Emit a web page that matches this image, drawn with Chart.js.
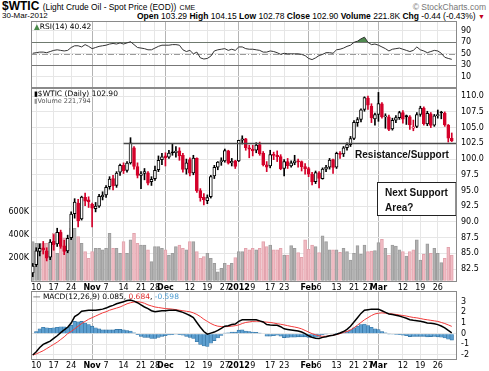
<!DOCTYPE html>
<html>
<head>
<meta charset="utf-8">
<script src="https://cdn.jsdelivr.net/npm/chart.js@4.4.0/dist/chart.umd.min.js"></script>
<style>
  html, body { margin: 0; padding: 0; background: #fff; }
  #wrap { position: relative; width: 489px; height: 371px; overflow: hidden; font-family: "Liberation Sans", Arial, sans-serif; color: #000; }
  canvas { position: absolute; left: 0; }
  .t { position: absolute; white-space: nowrap; line-height: 1; }
  .leg { position: absolute; white-space: nowrap; line-height: 1; font-family: "DejaVu Sans", sans-serif; font-size: 7.5px; }
</style>
</head>
<body>
<div id="wrap">
  <div class="t" style="left:2px;top:0px;font-size:12px;"><b>$WTIC</b> <span style="font-size:8.4px">(Light Crude Oil - Spot Price (EOD))</span> <span style="font-size:7px">CME</span></div>
  <div class="t" style="right:3px;top:3px;font-size:8.5px;color:#777">&copy; StockCharts.com</div>
  <div class="t" style="left:2px;top:12px;font-size:8px;">30-Mar-2012</div>
  <div class="t" style="right:4px;top:12px;font-size:8.5px;"><b>Open</b> 103.29 <b>High</b> 104.15 <b>Low</b> 102.78 <b>Close</b> 102.90 <b>Volume</b> 221.8K <b>Chg</b> -0.44 (-0.43%) <span style="color:#c00020;font-size:7px">&#9660;</span></div>

  <canvas id="rsiChart" width="489" height="67" style="top:21px"></canvas>
  <canvas id="priceChart" width="489" height="206" style="top:88px"></canvas>
  <canvas id="macdChart" width="489" height="82" style="top:289px"></canvas>

  <div class="leg" style="left:34px;top:23px;"><span style="color:#4a8a4a">&#9650;</span>RSI(14) 40.42</div>
  <div class="leg" style="left:34px;top:90px;"><span style="font-size:7px">&#9646;</span>$WTIC (Daily) 102.90</div>
  <div class="leg" style="left:34px;top:98px;font-size:6.5px;color:#555"><span style="color:#999">&#9646;</span>Volume 221,794</div>
  <div class="leg" style="left:33px;top:293px;">&#8212; MACD(12,26,9) 0.085, <span style="color:#e03030">0.684</span>, <span style="color:#4a9ad0">-0.598</span></div>
</div>

<script>
// --- 1. DATA ---
const dates = [
  '10/7','10/10','10/11','10/12','10/13','10/14','10/17','10/18','10/19','10/20','10/21','10/24','10/25','10/26','10/27','10/28','10/31',
  '11/1','11/2','11/3','11/4','11/7','11/8','11/9','11/10','11/11','11/14','11/15','11/16','11/17','11/18','11/21','11/22','11/23','11/25','11/28','11/29','11/30',
  '12/1','12/2','12/5','12/6','12/7','12/8','12/9','12/12','12/13','12/14','12/15','12/16','12/19','12/20','12/21','12/22','12/23','12/27','12/28','12/29','12/30',
  '1/3','1/4','1/5','1/6','1/9','1/10','1/11','1/12','1/13','1/17','1/18','1/19','1/20','1/23','1/24','1/25','1/26','1/27','1/30','1/31',
  '2/1','2/2','2/3','2/6','2/7','2/8','2/9','2/10','2/13','2/14','2/15','2/16','2/17','2/21','2/22','2/23','2/24','2/27','2/28','2/29',
  '3/1','3/2','3/5','3/6','3/7','3/8','3/9','3/12','3/13','3/14','3/15','3/16','3/19','3/20','3/21','3/22','3/23','3/26','3/27','3/28','3/29','3/30',
  '4/2'
];

const opens = [
  81.9,83.2,85.3,85.9,85.4,84.4,86.9,86.5,88.4,86.2,85.4,87.5,91.3,93.0,90.5,93.9,93.5,
  92.8,92.1,92.5,94.0,94.3,95.6,96.9,95.8,97.9,99.0,98.2,99.4,101.8,98.8,97.4,97.7,97.8,96.4,96.9,98.3,99.9,
  100.5,100.3,101.0,101.0,101.3,100.6,98.4,99.9,97.8,100.1,95.0,93.9,93.4,94.0,97.3,98.7,99.6,99.7,101.3,99.4,99.7,
  99.7,103.0,103.2,101.8,101.6,101.4,102.3,100.9,99.1,98.9,100.6,100.6,100.4,98.5,99.6,98.9,99.4,99.7,99.6,98.8,
  98.5,97.6,96.4,97.8,96.9,98.4,98.7,99.9,98.7,100.9,100.8,101.8,102.3,103.3,105.8,106.3,107.9,109.7,108.4,106.4,
  107.1,108.8,106.7,106.7,104.8,106.2,106.6,107.4,106.9,106.7,104.9,105.2,107.1,108.1,105.6,107.2,105.4,106.9,107.4,107.3,105.4,103.29
];
const highs = [
  83.4,85.9,86.5,86.9,85.9,87.2,88.0,89.0,88.7,87.1,87.9,91.6,93.7,93.6,94.1,94.6,94.0,
  93.0,93.1,94.4,94.8,95.8,97.2,97.4,98.0,99.2,99.4,99.6,103.4,102.0,99.4,98.0,98.5,98.0,97.2,98.9,100.5,100.9,
  101.0,101.4,102.4,102.0,101.8,100.9,100.0,100.2,100.6,100.2,95.3,94.5,94.3,97.4,99.0,99.6,100.2,101.6,101.4,100.1,99.8,
  103.0,103.7,103.3,102.2,102.2,102.6,102.7,101.2,99.6,101.4,101.1,101.3,100.7,99.9,100.1,99.7,100.6,100.0,99.7,99.3,
  98.7,97.9,98.1,98.0,98.6,99.0,100.1,100.0,101.1,101.2,102.0,102.6,103.6,106.1,106.6,108.0,109.9,110.0,108.8,107.3,
  110.6,109.0,107.2,107.0,106.5,106.9,107.6,107.7,107.0,106.9,106.2,107.4,108.4,108.3,107.6,107.4,107.1,107.8,107.6,107.5,105.5,104.15
];
const lows = [
  81.3,82.9,84.6,84.9,83.8,84.0,85.5,86.1,85.8,84.8,85.1,87.2,90.6,89.2,90.3,92.6,92.3,
  89.2,91.6,92.3,93.5,93.9,95.2,95.1,95.5,97.4,97.7,97.9,99.2,98.4,97.0,95.3,96.7,95.9,95.8,96.6,98.0,99.1,
  98.9,100.1,100.6,100.3,99.8,97.9,97.6,97.3,97.5,94.7,93.3,92.7,92.9,93.8,96.9,98.3,99.0,99.5,99.2,98.9,98.5,
  99.6,102.4,101.4,100.2,100.5,101.0,100.6,98.9,98.0,98.6,99.9,99.6,98.3,97.3,98.5,98.7,99.1,98.7,98.1,97.6,
  97.2,95.9,96.1,95.4,96.8,98.0,98.4,97.7,98.5,100.1,100.4,101.4,102.0,103.1,105.2,105.9,107.6,107.9,105.8,105.4,
  106.0,106.5,104.9,104.5,104.6,105.8,106.3,105.7,105.5,104.7,104.5,105.0,106.8,105.4,105.3,105.0,105.2,106.5,106.4,105.2,102.7,102.78
];
const closes = [
  82.98,85.41,85.81,85.57,84.23,86.80,86.38,88.34,86.11,85.30,87.40,91.27,93.17,90.20,93.96,93.32,93.19,
  92.19,92.51,94.07,94.26,95.52,96.80,95.74,97.78,98.99,98.14,99.37,102.59,98.82,97.41,97.67,98.01,96.17,96.77,98.21,99.79,100.36,
  100.20,100.96,100.99,101.28,100.49,98.34,99.41,97.77,100.14,94.95,93.87,93.53,93.88,97.22,98.67,99.53,99.68,101.34,99.36,99.65,98.83,
  102.96,103.22,101.81,101.56,101.31,102.24,100.87,99.10,98.70,100.71,100.59,100.39,98.46,99.58,98.95,99.40,99.70,99.56,98.78,98.48,
  97.61,96.36,97.84,96.91,98.41,98.70,99.84,98.67,100.91,100.74,101.80,102.31,103.24,105.84,106.28,107.83,109.77,108.56,106.55,107.07,
  108.84,106.70,106.72,104.70,106.16,106.58,107.40,106.34,106.71,105.43,105.11,107.06,108.09,105.61,107.27,105.35,106.87,107.03,107.33,105.41,103.34,102.90
];
// volume in thousands
const volumes = [
  339,325,325,325,325,209,412,238,412,370,325,455,455,383,325,252,194,252,282,282,
  267,282,412,282,282,238,339,238,354,412,325,310,310,267,165,296,296,282,267,223,
  238,296,310,282,267,339,339,252,194,209,238,194,151,78,107,151,136,151,200,252,
  252,282,267,282,267,282,339,296,310,267,267,282,223,223,304,282,244,203,354,273,
  310,296,244,389,339,267,267,267,247,282,252,180,238,304,232,310,252,258,261,330,
  360,282,223,310,301,267,252,214,252,267,354,180,229,319,238,282,238,157,194,290,222
];
const rsi = [
  51,52,53,53,52,54,56,57,56,55,56,61,64,64,62,66,63,59,61,63,64,
  65,67,68,67,69,67,69,71,66,61,60,59,57,57,60,63,65,65,65,66,
  66,65,57,54,56,50,53,43,41,42,46,55,57,58,59,56,58,56,62,62,
  59,58,58,57,56,53,53,55,54,52,49,51,50,50,50,50,49,47,42,40,
  43,47,49,52,52,51,57,58,60,63,65,70,72,76,79,70,66,67,65,62,
  59,55,58,59,60,58,56,54,56,62,57,55,52,54,56,55,51,44,42,40.42
];
const macdLine = [
  -2.0,-1.7,-1.3,-1.0,-0.85,-0.7,-0.45,-0.2,0.1,0.35,0.6,1.0,1.6,1.8,2.1,2.15,2.2,2.2,2.2,2.25,
  2.3,2.4,2.55,2.65,2.8,2.9,3.0,3.1,3.15,3.05,2.9,2.7,2.5,2.35,2.15,2.05,2.1,2.15,2.15,2.2,
  2.2,2.2,2.1,2.0,1.85,1.7,1.5,1.05,0.6,0.2,-0.05,0.05,0.15,0.3,0.5,0.7,0.75,0.85,0.9,1.15,
  1.3,1.3,1.3,1.3,1.3,1.2,1.1,0.85,0.82,0.8,0.78,0.65,0.45,0.4,0.35,0.3,0.25,0.15,0.0,-0.2,
  -0.35,-0.42,-0.46,-0.35,-0.28,-0.2,-0.15,-0.05,0.06,0.2,0.4,0.7,1.1,1.5,1.9,2.2,2.25,2.3,2.3,2.3,
  2.15,2.0,1.85,1.8,1.72,1.65,1.55,1.45,1.3,1.25,1.22,1.17,1.1,1.0,0.97,0.93,0.85,0.72,0.55,0.3,0.085
];
const macdSignal = [
  -2.0,-1.9,-1.75,-1.6,-1.4,-1.2,-1.0,-0.8,-0.55,-0.3,0.0,0.2,0.45,0.7,0.95,1.15,1.35,1.5,1.65,1.8,
  1.95,2.05,2.2,2.3,2.4,2.5,2.65,2.8,2.9,2.97,3.0,2.95,2.85,2.7,2.6,2.5,2.45,2.4,2.35,2.33,
  2.3,2.25,2.2,2.15,2.1,2.05,1.95,1.8,1.6,1.35,1.15,0.95,0.8,0.7,0.67,0.65,0.67,0.7,0.75,0.82,
  0.95,1.05,1.1,1.15,1.17,1.15,1.1,1.08,1.05,1.0,0.93,0.88,0.82,0.75,0.68,0.62,0.55,0.45,0.3,0.15,
  0.0,-0.1,-0.2,-0.25,-0.25,-0.2,-0.15,-0.08,0.0,0.12,0.2,0.35,0.55,0.8,1.05,1.3,1.5,1.7,1.85,1.92,
  1.95,1.92,1.88,1.85,1.8,1.75,1.7,1.65,1.58,1.52,1.48,1.42,1.35,1.3,1.25,1.2,1.15,1.05,0.95,0.82,0.684
];

const tickDates = ['10/10','10/17','10/24','11/1','11/7','11/14','11/21','11/28','12/1','12/12','12/19','12/27',
  '1/3','1/9','1/17','1/23','2/1','2/6','2/13','2/21','2/27','3/1','3/12','3/19','3/26'];
const tickTexts = ['10','17','24','Nov','7','14','21','28','Dec','12','19','27',
  '2012','9','17','23','Feb','6','13','21','27','Mar','12','19','26'];
const priceTicks = [82.5, 85.0, 87.5, 90.0, 92.5, 95.0, 97.5, 100.0, 102.5, 105.0, 107.5, 110.0];
const volumeTicks = [200, 400, 600];
const rsiTicks = [10, 30, 50, 70, 90];
const rsiLevels = [70, 50, 30];
const macdTicks = [-2, -1, 0, 1, 2, 3];

// annotations (price values / date indexes)
const resistLevel = 102.5;
const resistFrom = '11/14';

// --- 2. HELPERS ---
const tickIdx = tickDates.map(d => dates.indexOf(d));
const isMonth = i => /[A-Za-z]|2012/.test(tickTexts[i]);
const AXIS_FONT = 'DejaVu Sans';

function xAxis(labelHeight) {
    return {
        type: 'category',
        offset: true,
        border: { display: false },
        grid: {
            offset: false,
            drawTicks: false,
            color: ctx => isMonth(ctx.index) ? '#b4b4b4' : '#e6e6e6'
        },
        ticks: {
            display: labelHeight > 0,
            autoSkip: false,
            maxRotation: 0,
            padding: 1,
            color: '#000',
            font: ctx => ({ family: AXIS_FONT, size: 8, weight: isMonth(ctx.index) ? 'bold' : 'normal' }),
            callback: (v, i) => tickTexts[i]
        },
        afterBuildTicks: axis => { axis.ticks = tickIdx.map(i => ({ value: i })); },
        afterFit: axis => { axis.height = labelHeight; axis.paddingLeft = 0; axis.paddingRight = 0; }
    };
}

function rightAxis(min, max, ticks, fmt, width) {
    return {
        position: 'right',
        min: min,
        max: max,
        border: { display: false },
        grid: { drawTicks: false, color: '#e6e6e6' },
        ticks: { padding: 4, color: '#000', font: { family: AXIS_FONT, size: 8 }, callback: fmt },
        afterBuildTicks: axis => { axis.ticks = ticks.map(v => ({ value: v })); },
        afterFit: axis => { axis.width = width; axis.paddingTop = 0; axis.paddingBottom = 0; }
    };
}

// gray frame round every panel
const framePlugin = {
    id: 'frame',
    afterDraw(chart) {
        const { ctx, chartArea: a } = chart;
        ctx.save();
        ctx.strokeStyle = '#8a8a8a';
        ctx.lineWidth = 1;
        ctx.strokeRect(Math.round(a.left) + 0.5, Math.round(a.top) + 0.5,
            Math.round(a.right - a.left) - 1, Math.round(a.bottom - a.top) - 1);
        ctx.restore();
    }
};

const baseOptions = {
    responsive: false,
    animation: false,
    devicePixelRatio: 1,
    events: [],
    plugins: { legend: { display: false }, tooltip: { enabled: false } }
};

// --- 3. RSI PANEL ---
const rsiLevelsPlugin = {
    id: 'rsiLevels',
    beforeDatasetsDraw(chart) {
        const { ctx, chartArea: a, scales: { y } } = chart;
        ctx.save();
        rsiLevels.forEach(level => {
            const py = Math.round(y.getPixelForValue(level)) + 0.5;
            ctx.beginPath();
            ctx.strokeStyle = level === 50 ? '#9a9a9a' : '#777';
            ctx.setLineDash(level === 50 ? [6, 2, 1, 2] : []);
            ctx.moveTo(a.left, py);
            ctx.lineTo(a.right, py);
            ctx.stroke();
        });
        ctx.restore();
    }
};

new Chart(document.getElementById('rsiChart'), {
    type: 'line',
    data: {
        labels: dates,
        datasets: [{
            data: rsi,
            borderColor: '#333',
            borderWidth: 1,
            pointRadius: 0,
            fill: { target: { value: 70 }, above: '#4f8a4f', below: 'rgba(0,0,0,0)' }
        }]
    },
    options: {
        ...baseOptions,
        layout: { padding: { left: 31, top: 0, right: 0, bottom: 0 } },
        scales: {
            x: xAxis(0),
            y: rightAxis(-9.3, 107, rsiTicks, v => v, 32)
        }
    },
    plugins: [rsiLevelsPlugin, framePlugin]
});

// --- 4. PRICE + VOLUME PANEL ---
const upDay = closes.map((c, i) => i === 0 ? c >= opens[i] : c >= closes[i - 1]);
const candleColor = upDay.map(u => u ? '#000' : '#d4002a');
const bodyFill = closes.map((c, i) => c >= opens[i] ? '#fff' : candleColor[i]);

const notesPlugin = {
    id: 'notes',
    afterDatasetsDraw(chart) {
        const { ctx, chartArea: a, scales: { x, y } } = chart;
        ctx.save();
        // resistance / support line
        const ry = Math.round(y.getPixelForValue(resistLevel)) + 0.5;
        ctx.strokeStyle = '#4a4a4a';
        ctx.lineWidth = 1.5;
        ctx.beginPath();
        ctx.moveTo(x.getPixelForValue(dates.indexOf(resistFrom)), ry);
        ctx.lineTo(a.right, ry);
        ctx.stroke();

        ctx.fillStyle = '#111';
        ctx.font = 'bold 10px "Liberation Sans"';
        ctx.textBaseline = 'middle';
        ctx.fillText('Resistance/Support', x.getPixelForValue(92.3), y.getPixelForValue(100.55));

        // next support box
        const bx = Math.round(x.getPixelForValue(98.6)) + 0.5;
        const by = Math.round(y.getPixelForValue(96.4)) + 0.5;
        const bb = Math.round(y.getPixelForValue(91.1)) + 0.5;
        ctx.lineWidth = 1;
        ctx.strokeStyle = '#222';
        ctx.fillStyle = '#fff';
        ctx.fillRect(bx, by, a.right - 1 - bx, bb - by);
        ctx.strokeRect(bx, by, a.right - 1 - bx, bb - by);
        ctx.fillStyle = '#111';
        ctx.fillText('Next Support', x.getPixelForValue(100.9), y.getPixelForValue(94.6));
        ctx.fillText('Area?', x.getPixelForValue(100.9), y.getPixelForValue(92.2));
        ctx.restore();
    }
};

new Chart(document.getElementById('priceChart'), {
    type: 'bar',
    data: {
        labels: dates,
        datasets: [
            {
                data: opens.map((o, i) => [o, closes[i]]),
                backgroundColor: bodyFill,
                borderColor: candleColor,
                borderWidth: 1,
                borderSkipped: false,
                barThickness: 3,
                minBarLength: 1,
                grouped: false,
                yAxisID: 'y',
                order: 1
            },
            {
                data: lows.map((l, i) => [l, highs[i]]),
                backgroundColor: candleColor,
                barThickness: 1,
                grouped: false,
                yAxisID: 'y',
                order: 2
            },
            {
                data: volumes,
                backgroundColor: upDay.map(u => u ? '#b2b2b2' : '#f1bcc4'),
                borderColor: upDay.map(u => u ? '#9c9c9c' : '#e2a3ad'),
                borderWidth: 1,
                borderSkipped: 'bottom',
                barThickness: 3,
                grouped: false,
                yAxisID: 'yVol',
                order: 3
            }
        ]
    },
    options: {
        ...baseOptions,
        layout: { padding: 0 },
        scales: {
            x: xAxis(12),
            y: rightAxis(80.45, 111.3, priceTicks, v => v.toFixed(1), 32),
            yVol: {
                position: 'left',
                min: -11,
                max: 1671,
                border: { display: false },
                grid: { display: false, drawTicks: false },
                ticks: { padding: 2, color: '#000', font: { family: AXIS_FONT, size: 8 }, callback: v => v + 'K' },
                afterBuildTicks: axis => { axis.ticks = volumeTicks.map(v => ({ value: v })); },
                afterFit: axis => { axis.width = 31; axis.paddingTop = 0; axis.paddingBottom = 0; }
            }
        }
    },
    plugins: [notesPlugin, framePlugin]
});

// --- 5. MACD PANEL ---
// histogram = MACD line minus signal line
const macdHist = macdLine.map((v, i) => v - macdSignal[i]);

new Chart(document.getElementById('macdChart'), {
    type: 'line',
    data: {
        labels: dates,
        datasets: [
            { data: macdLine, borderColor: '#000', borderWidth: 1.5, pointRadius: 0, order: 1 },
            { data: macdSignal, borderColor: '#f23a3a', borderWidth: 1, pointRadius: 0, order: 2 },
            {
                type: 'bar',
                data: macdHist,
                backgroundColor: '#5d9fd0',
                borderColor: '#2f6f9f',
                borderWidth: 0.6,
                barPercentage: 1,
                categoryPercentage: 1,
                order: 3
            }
        ]
    },
    options: {
        ...baseOptions,
        layout: { padding: { left: 31, top: 2, right: 0, bottom: 0 } },
        scales: {
            x: xAxis(11),
            y: rightAxis(-2.47, 4.0, macdTicks, v => v, 32)
        }
    },
    plugins: [framePlugin]
});
</script>
</body>
</html>
